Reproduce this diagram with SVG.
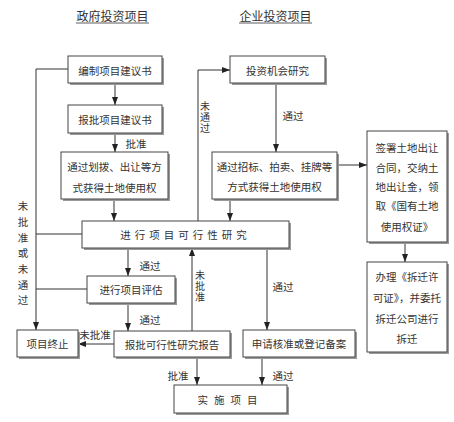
<svg xmlns="http://www.w3.org/2000/svg" width="454" height="422" viewBox="0 0 454 422">
<style>
.bx{fill:#fff;stroke:#444;stroke-width:1}
.sh{fill:#9a9a9a}
.t{font-family:"Noto Sans CJK SC","Noto Sans",sans-serif;font-size:10.5px;fill:#333;text-anchor:middle;dominant-baseline:central}
.v{font-family:"Noto Sans CJK SC","Noto Sans",sans-serif;font-size:10px;fill:#333;text-anchor:middle;writing-mode:vertical-rl}
.ti{font-family:"Noto Sans CJK SC","Noto Sans",sans-serif;font-size:12px;fill:#333;text-anchor:middle;dominant-baseline:central}
.ln{fill:none;stroke:#333;stroke-width:1}
</style>
<defs>
<marker id="ar" viewBox="0 0 8 8" refX="8" refY="4" markerWidth="8" markerHeight="8" markerUnits="userSpaceOnUse" orient="auto">
<path d="M0,1 L8,4 L0,7 Z" fill="#222"/>
</marker>
</defs>
<rect width="454" height="422" fill="#fff"/>
<g id="titles">
<text class="ti" x="112.5" y="15">政府投资项目</text>
<line x1="76" y1="23" x2="149" y2="23" stroke="#333" stroke-width="0.8"/>
<text class="ti" x="275.5" y="15">企业投资项目</text>
<line x1="239" y1="23" x2="312" y2="23" stroke="#333" stroke-width="0.8"/>
</g>
<g id="connectors">
<line class="ln" x1="115" y1="83" x2="115" y2="105" marker-end="url(#ar)"/>
<line class="ln" x1="115" y1="133" x2="115" y2="152" marker-end="url(#ar)"/>
<line class="ln" x1="114" y1="199" x2="114" y2="221" marker-end="url(#ar)"/>
<line class="ln" x1="276" y1="83" x2="276" y2="152" marker-end="url(#ar)"/>
<line class="ln" x1="230" y1="199" x2="230" y2="221" marker-end="url(#ar)"/>
<line class="ln" x1="337" y1="165" x2="367" y2="165" marker-end="url(#ar)"/>
<line class="ln" x1="405" y1="242" x2="405" y2="262" marker-end="url(#ar)"/>
<polyline class="ln" points="198,221 198,70 230,70" marker-end="url(#ar)"/>
<polyline class="ln" points="68,69 36,69 36,330" marker-end="url(#ar)"/>
<line class="ln" x1="82" y1="234" x2="36" y2="234"/>
<line class="ln" x1="87" y1="289" x2="36" y2="289"/>
<line class="ln" x1="128" y1="248" x2="128" y2="276" marker-end="url(#ar)"/>
<line class="ln" x1="128" y1="303" x2="128" y2="331" marker-end="url(#ar)"/>
<line class="ln" x1="114" y1="344" x2="78" y2="344" marker-end="url(#ar)"/>
<line class="ln" x1="192" y1="331" x2="192" y2="248" marker-end="url(#ar)"/>
<line class="ln" x1="197" y1="357" x2="197" y2="385" marker-end="url(#ar)"/>
<line class="ln" x1="267" y1="248" x2="267" y2="330" marker-end="url(#ar)"/>
<line class="ln" x1="262" y1="357" x2="262" y2="385" marker-end="url(#ar)"/>
<text class="t" x="136" y="143">批准</text>
<text class="t" x="293" y="115">通过</text>
<text class="v" x="205" y="118" letter-spacing="1">未通过</text>
<text class="v" x="23" y="256" style="font-size:10.5px" letter-spacing="5.2">未批准或未通过</text>
<text class="t" x="150" y="265">通过</text>
<text class="t" x="150" y="319">通过</text>
<text class="t" x="95" y="334">未批准</text>
<text class="v" x="200" y="287" letter-spacing="1">未批准</text>
<text class="t" x="178" y="375">批准</text>
<text class="t" x="283" y="286">通过</text>
<text class="t" x="283" y="375">通过</text>
</g>
<g id="n1"><rect class="sh" x="70" y="58" width="94" height="27"/><rect class="bx" x="68" y="56" width="94" height="27"/><text class="t" x="115" y="70">编制项目建议书</text></g>
<g id="n2"><rect class="sh" x="70" y="107" width="94" height="28"/><rect class="bx" x="68" y="105" width="94" height="28"/><text class="t" x="115" y="119">报批项目建议书</text></g>
<g id="n3"><rect class="sh" x="63" y="154" width="107" height="47"/><rect class="bx" x="61" y="152" width="107" height="47"/><text class="t" x="114.5" y="166">通过划拨、出让等方</text><text class="t" x="114.5" y="187">式获得土地使用权</text></g>
<g id="n4"><rect class="sh" x="232" y="58" width="95" height="27"/><rect class="bx" x="230" y="56" width="95" height="27"/><text class="t" x="277.5" y="70">投资机会研究</text></g>
<g id="n5"><rect class="sh" x="214" y="154" width="125" height="47"/><rect class="bx" x="212" y="152" width="125" height="47"/><text class="t" x="274.5" y="166">通过招标、拍卖、挂牌等</text><text class="t" x="274.5" y="186">方式获得土地使用权</text></g>
<g id="n6"><rect class="sh" x="369" y="133" width="80" height="111"/><rect class="bx" x="367" y="131" width="80" height="111"/><text class="t" x="407" y="147">签署土地出让</text><text class="t" x="407" y="167">合同，交纳土</text><text class="t" x="407" y="186">地出让金，领</text><text class="t" x="407" y="205">取《国有土地</text><text class="t" x="407" y="226">使用权证》</text></g>
<g id="n7"><rect class="sh" x="369" y="264" width="80" height="90"/><rect class="bx" x="367" y="262" width="80" height="90"/><text class="t" x="407" y="276">办理《拆迁许</text><text class="t" x="407" y="297">可证》，并委托</text><text class="t" x="407" y="318">拆迁公司进行</text><text class="t" x="407" y="338">拆迁</text></g>
<g id="n8"><rect class="sh" x="84" y="223" width="207" height="27"/><rect class="bx" x="82" y="221" width="207" height="27"/><text class="t" x="185.5" y="234.5" letter-spacing="4">进行项目可行性研究</text></g>
<g id="n9"><rect class="sh" x="89" y="278" width="88" height="27"/><rect class="bx" x="87" y="276" width="88" height="27"/><text class="t" x="131" y="289.5">进行项目评估</text></g>
<g id="n10"><rect class="sh" x="19" y="332" width="61" height="27"/><rect class="bx" x="17" y="330" width="61" height="27"/><text class="t" x="47.5" y="343.5">项目终止</text></g>
<g id="n11"><rect class="sh" x="116" y="333" width="116" height="26"/><rect class="bx" x="114" y="331" width="116" height="26"/><text class="t" x="172" y="344">报批可行性研究报告</text></g>
<g id="n12"><rect class="sh" x="245" y="332" width="112" height="27"/><rect class="bx" x="243" y="330" width="112" height="27"/><text class="t" x="299" y="343.5">申请核准或登记备案</text></g>
<g id="n13"><rect class="sh" x="176" y="387" width="113" height="28"/><rect class="bx" x="174" y="385" width="113" height="28"/><text class="t" x="230.5" y="399" letter-spacing="6">实施项目</text></g>
</svg>
